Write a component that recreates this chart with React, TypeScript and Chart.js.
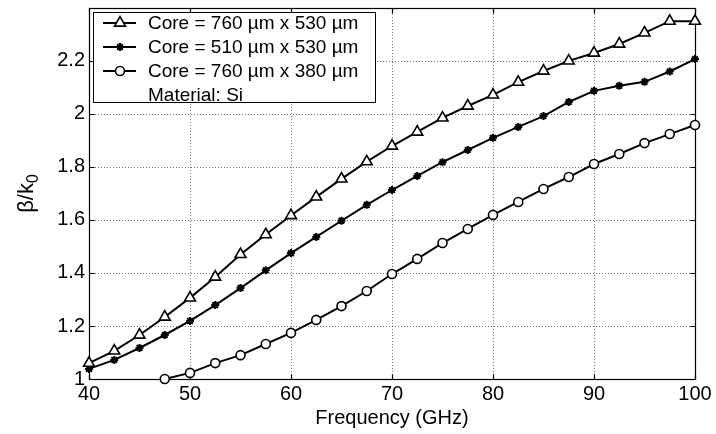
import React, { useEffect, useRef } from "react";
import { Chart, registerables } from "chart.js";

Chart.register(...registerables);

const freqGHz = [40, 42.5, 45, 47.5, 50, 52.5, 55, 57.5, 60, 62.5, 65, 67.5, 70, 72.5, 75, 77.5, 80, 82.5, 85, 87.5, 90, 92.5, 95, 97.5, 100];
const core760x530 = [1.06, 1.106, 1.166, 1.234, 1.306, 1.385, 1.47, 1.545, 1.617, 1.687, 1.755, 1.82, 1.879, 1.932, 1.985, 2.03, 2.072, 2.12, 2.162, 2.2, 2.23, 2.264, 2.306, 2.35, 2.35];
const core510x530 = [1.038, 1.072, 1.117, 1.166, 1.219, 1.279, 1.343, 1.41, 1.475, 1.536, 1.597, 1.657, 1.713, 1.766, 1.818, 1.864, 1.91, 1.951, 1.992, 2.045, 2.087, 2.106, 2.121, 2.16, 2.207];
const freq760x380 = [47.5, 50, 52.5, 55, 57.5, 60, 62.5, 65, 67.5, 70, 72.5, 75, 77.5, 80, 82.5, 85, 87.5, 90, 92.5, 95, 97.5, 100];
const core760x380 = [1.0, 1.023, 1.06, 1.09, 1.132, 1.174, 1.223, 1.275, 1.332, 1.396, 1.453, 1.513, 1.566, 1.619, 1.668, 1.717, 1.762, 1.811, 1.849, 1.89, 1.924, 1.958];

const seriesLabels = ["Core = 760 µm x 530 µm", "Core = 510 µm x 530 µm", "Core = 760 µm x 380 µm"];
const seriesMarkers = ["triangle", "star", "circle"];
const legendNote = "Material: Si";
const xTicks = [40, 50, 60, 70, 80, 90, 100];
const yTicks = [1, 1.2, 1.4, 1.6, 1.8, 2, 2.2];
const xTitle = "Frequency (GHz)";
const yTitleMain = "β/k";
const yTitleSub = "0";

const FONT = '"Liberation Sans", Arial, Helvetica, sans-serif';

function drawMarker(ctx: CanvasRenderingContext2D, kind: string, x: number, y: number) {
  ctx.save();
  ctx.strokeStyle = "#000";
  ctx.fillStyle = "#fff";
  ctx.lineWidth = 1.6;
  ctx.setLineDash([]);
  if (kind === "triangle") {
    const r = 6.3;
    ctx.beginPath();
    ctx.moveTo(x, y - r);
    ctx.lineTo(x + r * Math.sin(Math.PI / 3), y + r * 0.5);
    ctx.lineTo(x - r * Math.sin(Math.PI / 3), y + r * 0.5);
    ctx.closePath();
    ctx.fill();
    ctx.stroke();
  } else if (kind === "circle") {
    ctx.beginPath();
    ctx.arc(x, y, 4.5, 0, Math.PI * 2);
    ctx.fill();
    ctx.stroke();
  } else if (kind === "star") {
    ctx.lineWidth = 2;
    const r = 4;
    ctx.beginPath();
    for (let i = 0; i < 4; i++) {
      const a = (i * Math.PI) / 4;
      ctx.moveTo(x - r * Math.cos(a), y - r * Math.sin(a));
      ctx.lineTo(x + r * Math.cos(a), y + r * Math.sin(a));
    }
    ctx.stroke();
  }
  ctx.restore();
}

const framePlugin = {
  id: "frame",
  beforeDatasetsDraw(chart: any) {
    const { ctx, chartArea: a, scales } = chart;
    const xs = scales.x;
    const ys = scales.y;
    ctx.save();
    ctx.strokeStyle = "rgba(0,0,0,0.55)";
    ctx.lineWidth = 1;
    ctx.setLineDash([1, 2]);
    for (const v of xTicks) {
      const px = Math.round(xs.getPixelForValue(v)) + 0.5;
      ctx.beginPath();
      ctx.moveTo(px, a.top);
      ctx.lineTo(px, a.bottom);
      ctx.stroke();
    }
    for (const v of yTicks) {
      const py = Math.round(ys.getPixelForValue(v)) + 0.5;
      ctx.beginPath();
      ctx.moveTo(a.left, py);
      ctx.lineTo(a.right, py);
      ctx.stroke();
    }
    ctx.setLineDash([]);
    ctx.strokeStyle = "#000";
    ctx.lineWidth = 1.2;
    const L = Math.round(a.left) + 0.5, R = Math.round(a.right) + 0.5;
    const T = Math.round(a.top) + 0.5, B = Math.round(a.bottom) + 0.5;
    ctx.strokeRect(L, T, R - L, B - T);
    ctx.beginPath();
    for (const v of xTicks) {
      const px = Math.round(xs.getPixelForValue(v)) + 0.5;
      ctx.moveTo(px, B);
      ctx.lineTo(px, B - 5);
      ctx.moveTo(px, T);
      ctx.lineTo(px, T + 5);
    }
    for (const v of yTicks) {
      const py = Math.round(ys.getPixelForValue(v)) + 0.5;
      ctx.moveTo(L, py);
      ctx.lineTo(L + 5, py);
      ctx.moveTo(R, py);
      ctx.lineTo(R - 5, py);
    }
    ctx.stroke();
    ctx.restore();
  },
  afterDraw(chart: any) {
    const { ctx, chartArea: a } = chart;
    ctx.save();
    ctx.fillStyle = "#000";
    ctx.font = `20px ${FONT}`;
    ctx.textAlign = "center";
    ctx.textBaseline = "middle";
    ctx.fillText(xTitle, (a.left + a.right) / 2, 418);
    ctx.save();
    ctx.translate(27, (a.top + a.bottom) / 2);
    ctx.rotate(-Math.PI / 2);
    ctx.font = `22px ${FONT}`;
    const w1 = ctx.measureText(yTitleMain).width;
    ctx.font = `16px ${FONT}`;
    const w2 = ctx.measureText(yTitleSub).width;
    const start = -(w1 + w2) / 2;
    ctx.textAlign = "left";
    ctx.textBaseline = "alphabetic";
    ctx.font = `22px ${FONT}`;
    ctx.fillText(yTitleMain, start, 6);
    ctx.font = `16px ${FONT}`;
    ctx.fillText(yTitleSub, start + w1, 11);
    ctx.restore();

    const bx = 93, by = 12, bw = 282, bh = 90;
    ctx.fillStyle = "#fff";
    ctx.fillRect(bx, by, bw, bh);
    ctx.strokeStyle = "#000";
    ctx.lineWidth = 1;
    ctx.strokeRect(bx + 0.5, by + 0.5, bw, bh);
    const rows = [23, 47, 71, 95];
    ctx.font = `19px ${FONT}`;
    ctx.textAlign = "left";
    ctx.textBaseline = "middle";
    seriesLabels.forEach((label, i) => {
      const y = rows[i];
      ctx.strokeStyle = "#000";
      ctx.lineWidth = 2;
      ctx.beginPath();
      ctx.moveTo(103, y);
      ctx.lineTo(136, y);
      ctx.stroke();
      drawMarker(ctx, seriesMarkers[i], 120, y);
      ctx.fillStyle = "#000";
      ctx.fillText(label, 148, y + 1);
    });
    ctx.fillStyle = "#000";
    ctx.fillText(legendNote, 148, rows[3] + 1);
    ctx.restore();
  },
};

export default function App() {
  const ref = useRef<HTMLCanvasElement | null>(null);
  useEffect(() => {
    document.body.style.margin = "0";
    const canvas = ref.current;
    if (!canvas) return;
    const mk = (xs: number[], ys: number[]) => xs.map((x, i) => ({ x, y: ys[i] }));
    const common = {
      borderColor: "#000",
      borderWidth: 2,
      pointBorderColor: "#000",
      pointBorderWidth: 1.6,
      tension: 0,
      clip: false as any,
      fill: false,
    };
    const chart = new Chart(canvas, {
      type: "line",
      data: {
        datasets: [
          { ...common, label: seriesLabels[0], data: mk(freqGHz, core760x530), pointStyle: "triangle", pointRadius: 6.3, pointBackgroundColor: "#fff" },
          { ...common, label: seriesLabels[1], data: mk(freqGHz, core510x530), pointStyle: "star", pointRadius: 4, pointBorderWidth: 2, pointBackgroundColor: "#000" },
          { ...common, label: seriesLabels[2], data: mk(freq760x380, core760x380), pointStyle: "circle", pointRadius: 4.5, pointBackgroundColor: "#fff" },
        ] as any,
      },
      options: {
        animation: false,
        responsive: false,
        devicePixelRatio: 1,
        layout: { padding: { top: 7, right: 21, left: 0, bottom: 0 } },
        plugins: { legend: { display: false }, tooltip: { enabled: false } },
        scales: {
          x: {
            type: "linear",
            min: 40,
            max: 100,
            afterBuildTicks: (s: any) => { s.ticks = xTicks.map((v) => ({ value: v })); },
            afterFit: (s: any) => { s.height = 55; s.paddingLeft = 0; s.paddingRight = 0; },
            ticks: { color: "#000", font: { family: FONT, size: 20 }, padding: 3, maxRotation: 0, autoSkip: false },
            grid: { display: false, drawTicks: false },
            border: { display: false },
          },
          y: {
            type: "linear",
            min: 1,
            max: 2.4,
            afterBuildTicks: (s: any) => { s.ticks = yTicks.map((v) => ({ value: v })); },
            afterFit: (s: any) => { s.width = 89; s.paddingTop = 0; s.paddingBottom = 0; },
            ticks: { color: "#000", font: { family: FONT, size: 20 }, padding: 4, autoSkip: false, callback: (v: any) => String(Math.round(Number(v) * 10) / 10) },
            grid: { display: false, drawTicks: false },
            border: { display: false },
          },
        },
      } as any,
      plugins: [framePlugin],
    });
    return () => chart.destroy();
  }, []);
  return (
    <div style={{ position: "absolute", left: 0, top: 0, width: 716, height: 434, background: "#fff" }}>
      <canvas ref={ref} width={716} height={434} style={{ display: "block", width: 716, height: 434 }} />
    </div>
  );
}
